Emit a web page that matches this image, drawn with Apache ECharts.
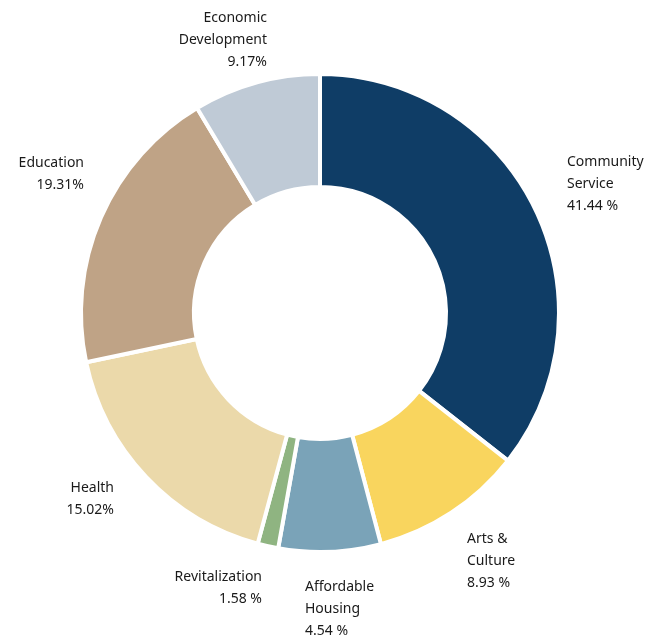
<!DOCTYPE html>
<html>
<head>
<meta charset="utf-8">
<script src="https://cdn.jsdelivr.net/npm/echarts@6/dist/echarts.min.js"></script>
<style>
html,body{margin:0;padding:0;background:#fff;}
#main{width:653px;height:637px;}
</style>
</head>
<body>
<div id="main"></div>
<script>
var categories = ["Community Service", "Arts & Culture", "Affordable Housing", "Revitalization", "Health", "Education", "Economic Development"];
var values = [35.6, 10.3, 6.9, 1.4, 17.5, 19.7, 8.6];
var percentLabels = ["41.44 %", "8.93 %", "4.54 %", "1.58 %", "15.02%", "19.31%", "9.17%"];
var colors = ["#0f3d66", "#f9d55e", "#7aa3b8", "#8fb481", "#ebd9aa", "#bfa386", "#bfcad6"];

// Label layout (placement of text blocks, not data)
var labelAnchors = [
  {x: 567, y: 184, align: 'left'},
  {x: 467, y: 561, align: 'left'},
  {x: 305, y: 609, align: 'left'},
  {x: 262, y: 588, align: 'right'},
  {x: 114, y: 499, align: 'right'},
  {x: 84,  y: 174, align: 'right'},
  {x: 267, y: 40,  align: 'right'}
];

function splitName(n) {
  var i = n.lastIndexOf(' ');
  return i > 0 ? n.slice(0, i) + '\n' + n.slice(i + 1) : n;
}

var chart = echarts.init(document.getElementById('main'), null, {renderer: 'canvas'});
chart.setOption({
  animation: false,
  backgroundColor: '#ffffff',
  series: [{
    type: 'pie',
    center: [320, 313],
    radius: [126, 239],
    startAngle: 90,
    clockwise: true,
    avoidLabelOverlap: false,
    itemStyle: {borderColor: '#ffffff', borderWidth: 4},
    label: {
      show: true,
      position: 'outside',
      fontFamily: 'Noto Sans',
      fontSize: 14,
      lineHeight: 22,
      color: '#1a1a1a',
      formatter: function (p) {
        return splitName(p.name) + '\n' + percentLabels[p.dataIndex];
      }
    },
    labelLine: {show: false},
    labelLayout: function (p) {
      var a = labelAnchors[p.dataIndex];
      return {x: a.x, y: a.y, align: a.align, verticalAlign: 'middle'};
    },
    emphasis: {disabled: true},
    data: categories.map(function (c, i) {
      return {name: c, value: values[i], itemStyle: {color: colors[i]}, label: {align: labelAnchors[i].align}};
    })
  }]
});
</script>
</body>
</html>
